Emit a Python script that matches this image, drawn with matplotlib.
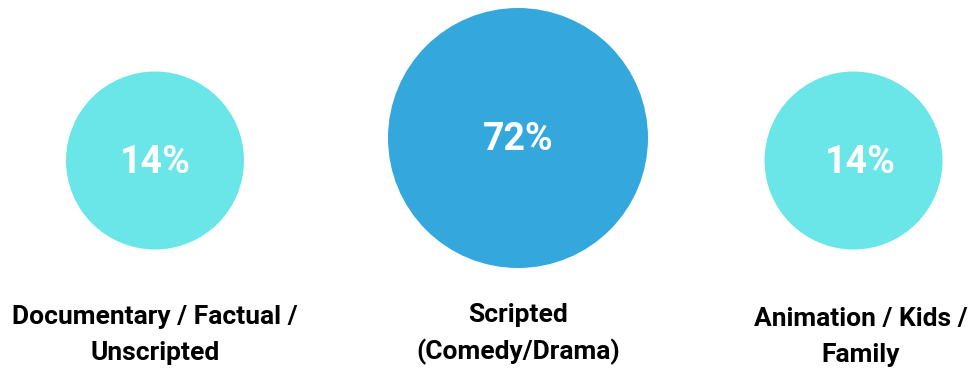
import matplotlib.pyplot as plt
from matplotlib.patches import Circle

# data
categories = ['Documentary / Factual /\nUnscripted', 'Scripted\n(Comedy/Drama)', 'Animation / Kids /\nFamily']
shares = [14, 72, 14]

# layout (pixel coords)
centers_x = [155, 518, 853.5]
centers_y = [160.5, 138, 160.5]
radii = [89, 130, 89]
pct_x = [155, 518, 860]
label_x = [155, 518, 861]
label_y = [335, 334, 337]
colors = ['#6AE6E9', '#34A8DD', '#6AE6E9']

plt.rcParams['font.family'] = ['Roboto', 'DejaVu Sans']

fig = plt.figure(figsize=(9.73, 3.69), dpi=100)
ax = fig.add_axes([0, 0, 1, 1])
ax.set_xlim(0, 973)
ax.set_ylim(369, 0)
ax.set_aspect('equal')
ax.axis('off')

for i in range(len(shares)):
    ax.add_patch(Circle((centers_x[i], centers_y[i]), radii[i], color=colors[i], lw=0))
    ax.text(pct_x[i], centers_y[i] + 2, str(shares[i]) + '%', color='white',
            fontsize=27, fontweight='bold', ha='center', va='center')
    ax.text(label_x[i], label_y[i], categories[i], color='black',
            fontsize=19, fontweight='bold', ha='center', va='center', linespacing=1.6)

fig.savefig('out.png', dpi=100)
